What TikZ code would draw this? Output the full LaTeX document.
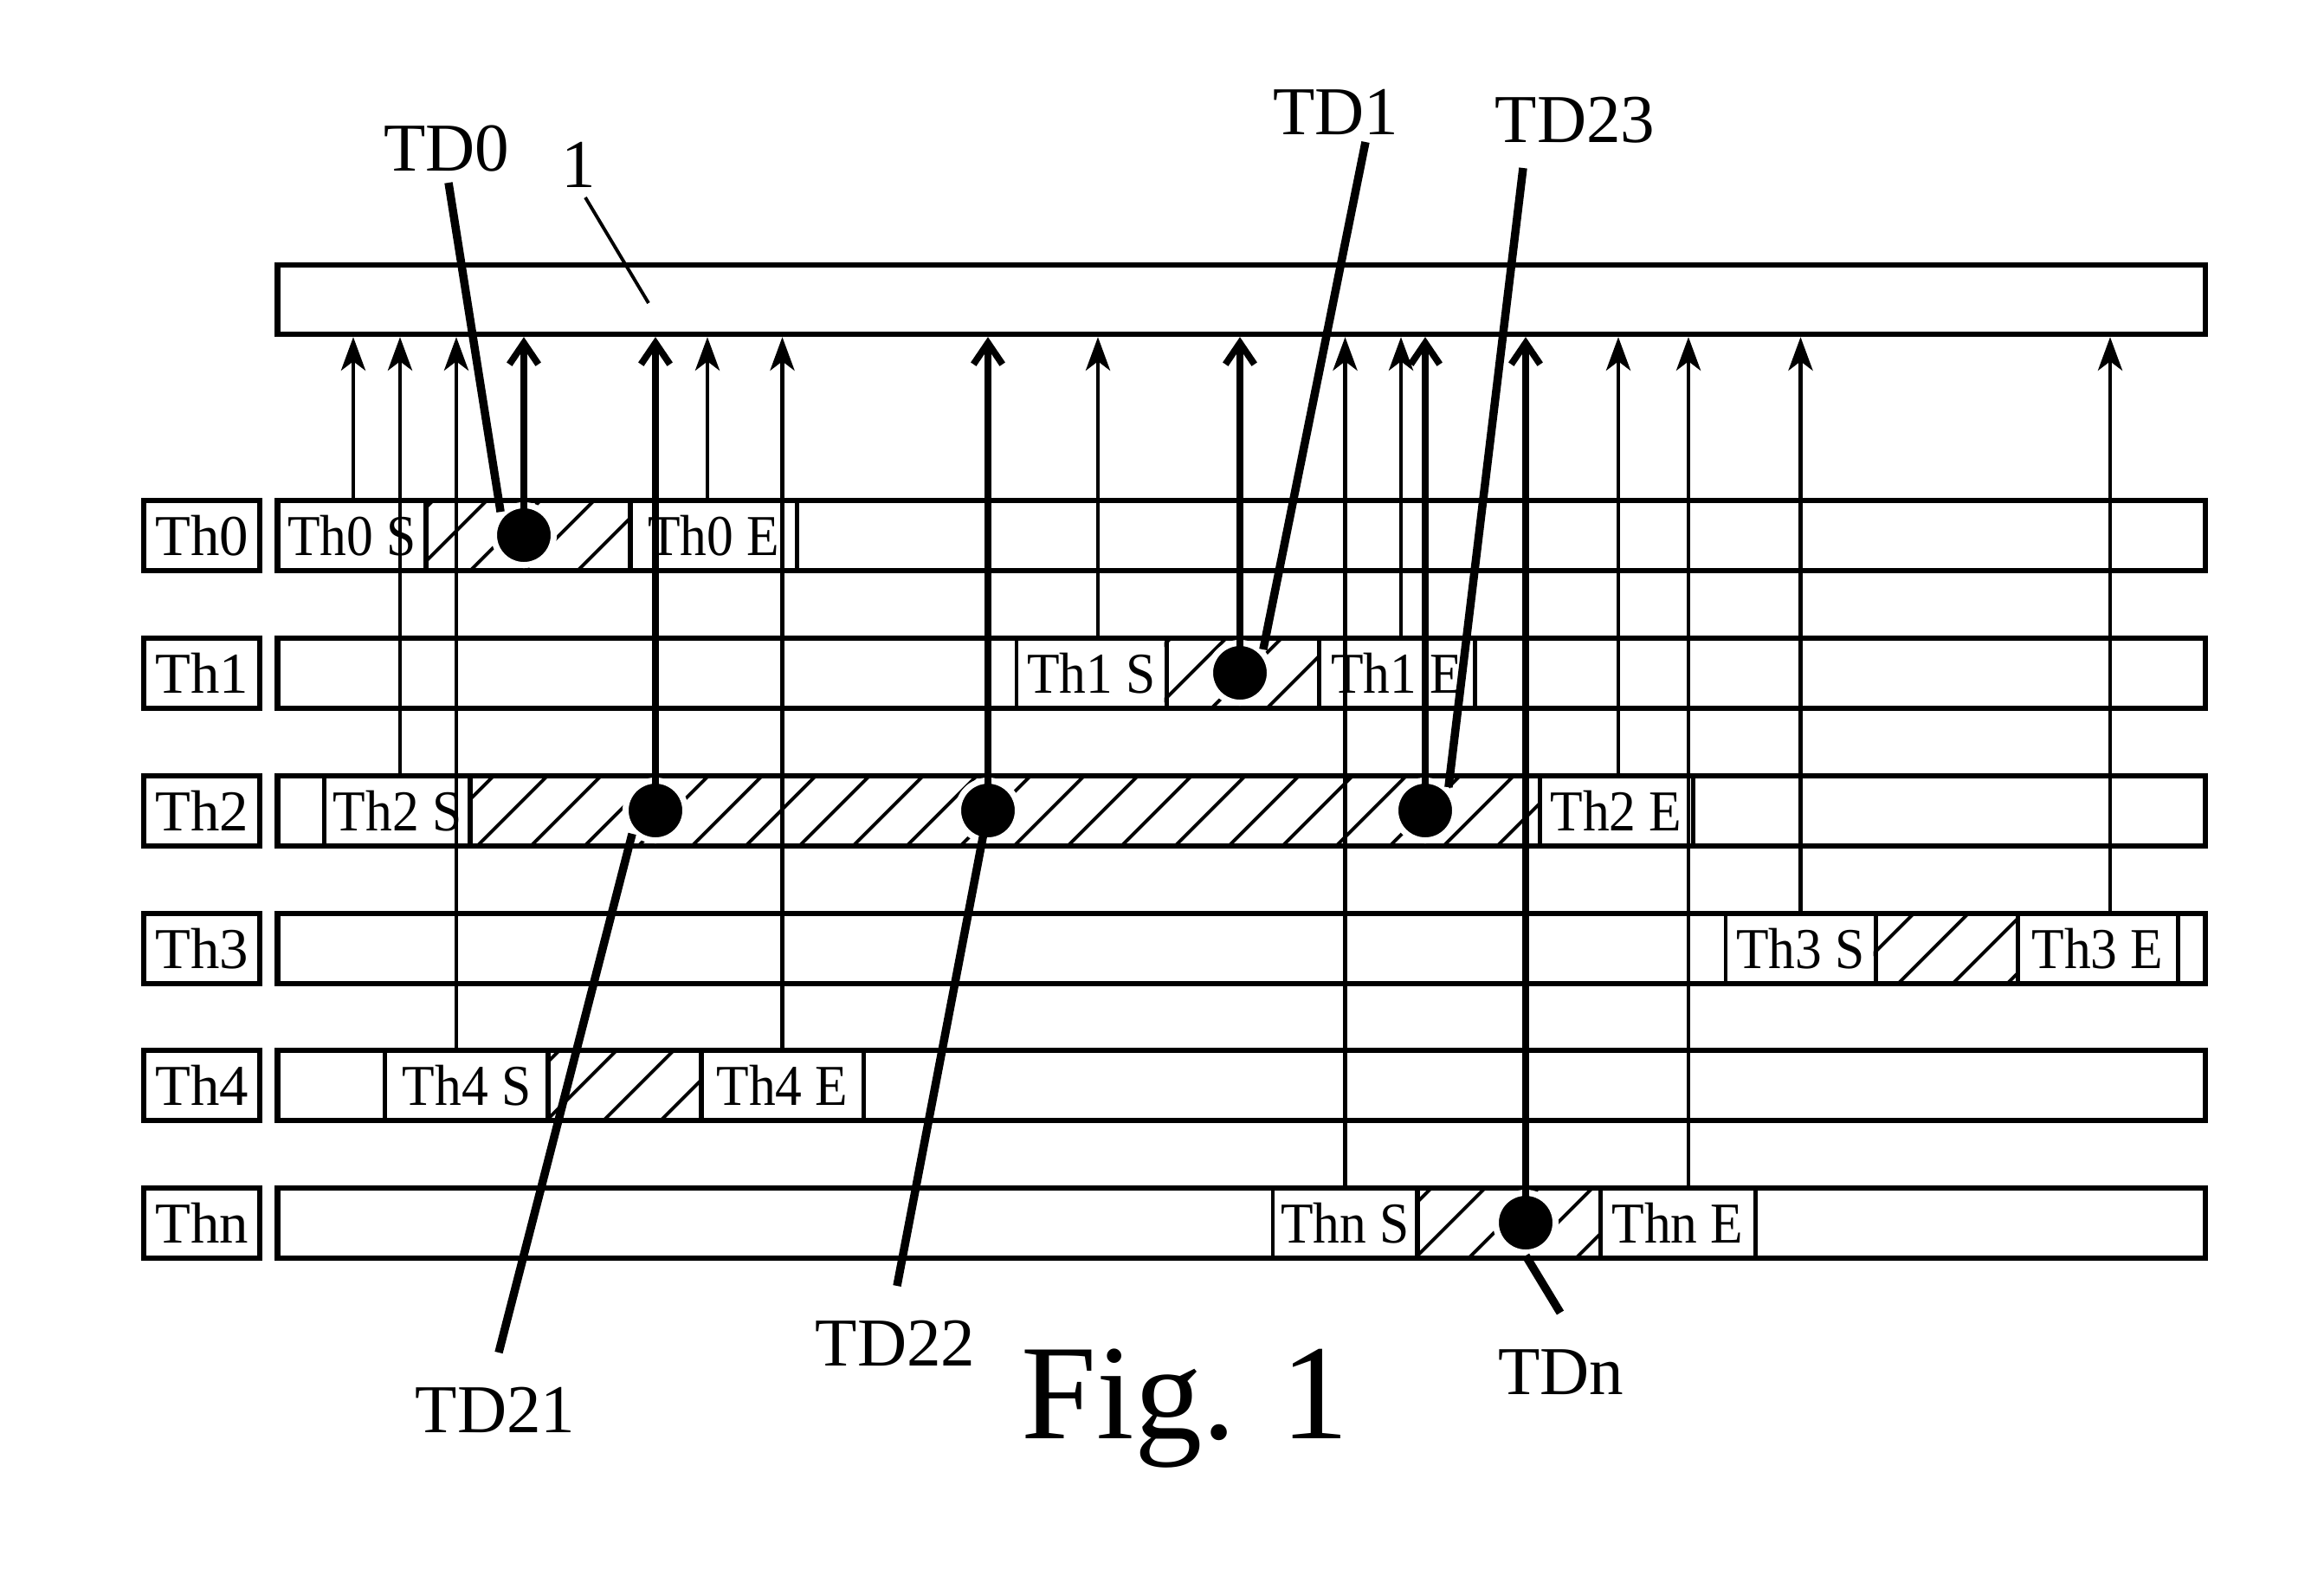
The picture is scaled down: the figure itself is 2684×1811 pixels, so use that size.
\documentclass[tikz,border=0pt]{standalone}
\usepackage{fontspec}
\usepackage{graphicx}
\setmainfont{Liberation Serif}
\usetikzlibrary{arrows.meta,calc}
% box from (x1,y1) to (x2,y2) in picture units, with a style and a text
\newcommand\mybox[7]{%
  \pgfmathsetmacro\bw{(#4-#3)/100}%
  \pgfmathsetmacro\bh{(#6-#5)/100}%
  \node[#1, minimum width=\bw cm, minimum height=\bh cm] (#2) at ({(#3+#4)/2},{(#5+#6)/2}) {#7};}
\newcommand\hatchreg[5]{%
  \begin{scope}
    \clip (#1.south west) rectangle (#1.north east);
    \foreach \k in {-1,...,#5} {\draw[hatchline] ({#2+#3*\k},#4) -- ++(120,-120);}
  \end{scope}}
\begin{document}
\begin{tikzpicture}[x=0.01cm,y=-0.01cm,
  bar/.style={draw, line width=1.8pt, inner sep=0pt},
  seg/.style={draw, line width=1.4pt, inner sep=0pt, font=\fontsize{19}{22}\selectfont},
  lab/.style={draw, line width=1.8pt, inner sep=0pt, font=\fontsize{19}{22}\selectfont},
  hatchline/.style={line width=1.1pt},
  thinarr/.style={line width=1.3pt, -{Stealth[length=11pt,width=8pt,inset=3pt]}},
  thickarr/.style={line width=2.2pt, -{Straight Barb[length=7pt,width=9.5pt]}},
  leader/.style={line width=2.7pt},
  thinlead/.style={line width=1.1pt},
  dot/.style={circle, fill=black, draw=white, line width=2pt, minimum size=0.69cm, inner sep=0pt},
  tdlab/.style={inner sep=0pt, font=\fontsize{22.5}{26}\selectfont},
  figlab/.style={inner sep=0pt, font=\fontsize{44.5}{50}\selectfont}]
\useasboundingbox (0,0) rectangle (2684,1811);
\fill[white] (0,0) rectangle (2684,1811);

% buffer
\mybox{bar}{buf}{321}{2546}{306}{386}{}

% rows
\mybox{lab}{l0}{166}{300}{578}{659}{Th0}
\mybox{bar}{bar0}{321}{2546}{578}{659}{}
\mybox{lab}{l1}{166}{300}{737}{818}{Th1}
\mybox{bar}{bar1}{321}{2546}{737}{818}{}
\mybox{lab}{l2}{166}{300}{896}{977}{Th2}
\mybox{bar}{bar2}{321}{2546}{896}{977}{}
\mybox{lab}{l3}{166}{300}{1055}{1136}{Th3}
\mybox{bar}{bar3}{321}{2546}{1055}{1136}{}
\mybox{lab}{l4}{166}{300}{1213}{1294}{Th4}
\mybox{bar}{bar4}{321}{2546}{1213}{1294}{}
\mybox{lab}{l5}{166}{300}{1372}{1453}{Thn}
\mybox{bar}{bar5}{321}{2546}{1372}{1453}{}

% segments
\mybox{seg}{s0}{321}{492}{578}{659}{\scalebox{0.92}[1]{Th0 S}}
\mybox{seg}{h0}{492}{728}{578}{659}{}
\mybox{seg}{e0}{728}{920}{578}{659}{\scalebox{0.92}[1]{Th0 E}}

\mybox{seg}{s1}{1174}{1347}{737}{818}{\scalebox{0.92}[1]{Th1 S}}
\mybox{seg}{h1}{1347}{1523}{737}{818}{}
\mybox{seg}{e1}{1523}{1703}{737}{818}{\scalebox{0.92}[1]{Th1 E}}

\mybox{seg}{s2}{375}{543}{896}{977}{\scalebox{0.92}[1]{Th2 S}}
\mybox{seg}{h2}{543}{1778}{896}{977}{}
\mybox{seg}{e2}{1778}{1955}{896}{977}{\scalebox{0.92}[1]{Th2 E}}

\mybox{seg}{s3}{1993}{2166}{1055}{1136}{\scalebox{0.92}[1]{Th3 S}}
\mybox{seg}{h3}{2166}{2330}{1055}{1136}{}
\mybox{seg}{e3}{2330}{2515}{1055}{1136}{\scalebox{0.92}[1]{Th3 E}}

\mybox{seg}{s4}{445}{633}{1213}{1294}{\scalebox{0.92}[1]{Th4 S}}
\mybox{seg}{h4}{633}{810}{1213}{1294}{}
\mybox{seg}{e4}{810}{997}{1213}{1294}{\scalebox{0.92}[1]{Th4 E}}

\mybox{seg}{sn}{1470}{1637}{1372}{1453}{\scalebox{0.92}[1]{Thn S}}
\mybox{seg}{hn}{1637}{1848}{1372}{1453}{}
\mybox{seg}{en}{1848}{2027}{1372}{1453}{\scalebox{0.92}[1]{Thn E}}

% hatching
\hatchreg{h0}{481}{62}{659}{5}
\hatchreg{h1}{1335}{64}{818}{4}
\hatchreg{h2}{551}{62}{977}{21}
\hatchreg{h3}{2129}{63}{1136}{4}
\hatchreg{h4}{631}{66}{1294}{4}
\hatchreg{hn}{1634}{62}{1453}{5}

% thin arrows from start/end boxes to the buffer
\draw[thinarr] ([xshift=0.015cm]s0.north) -- ([xshift=0.015cm]s0.north |- buf.south);
\draw[thinarr] ([xshift=0.03cm]s2.north) -- ([xshift=0.03cm]s2.north |- buf.south);
\draw[thinarr] ([xshift=-0.12cm]s4.north) -- ([xshift=-0.12cm]s4.north |- buf.south);
\draw[thinarr] ([xshift=-0.07cm]e0.north) -- ([xshift=-0.07cm]e0.north |- buf.south);
\draw[thinarr] (e4.north) -- (e4.north |- buf.south);
\draw[thinarr] ([xshift=0.075cm]s1.north) -- ([xshift=0.075cm]s1.north |- buf.south);
\draw[thinarr] (sn.north) -- (sn.north |- buf.south);
\draw[thinarr] ([xshift=0.05cm]e1.north) -- ([xshift=0.05cm]e1.north |- buf.south);
\draw[thinarr] ([xshift=0.025cm]e2.north) -- ([xshift=0.025cm]e2.north |- buf.south);
\draw[thinarr] ([xshift=0.125cm]en.north) -- ([xshift=0.125cm]en.north |- buf.south);
\draw[thinarr] (s3.north) -- (s3.north |- buf.south);
\draw[thinarr] ([xshift=0.145cm]e3.north) -- ([xshift=0.145cm]e3.north |- buf.south);

% dots
\node[dot] (d0) at (605,618) {};
\node[dot] (d1) at (1432,777) {};
\node[dot] (d21) at (757,936) {};
\node[dot] (d22) at (1141,936) {};
\node[dot] (d23) at (1646,936) {};
\node[dot] (dn) at (1762,1412) {};

% thick arrows
\foreach \d in {d0,d1,d21,d22,d23,dn} {
  \draw[thickarr] (\d.center) -- (\d.center |- buf.south);
}

% labels
\node[tdlab] (tTD0) at (516,172) {TD0};
\node[tdlab] (t1) at (668,190) {1};
\node[tdlab] (tTD1) at (1543,129) {TD1};
\node[tdlab] (tTD23) at (1819,139) {TD23};
\node[tdlab] (tTD21) at (572,1628) {TD21};
\node[tdlab] (tTD22) at (1034,1551) {TD22};
\node[tdlab] (tTDn) at (1803,1585) {TDn};
\node[figlab, anchor=base west] (fig) at (1179,1661) {Fig. 1};

% leader lines
\coordinate (cTD0) at (518,211);
\coordinate (c1a) at (676,228);
\coordinate (c1b) at (749,350);
\coordinate (cTD1) at (1577,164);
\coordinate (cTD23) at (1759,194);
\coordinate (cTD21) at (576,1562);
\coordinate (cTD22) at (1036,1485);
\coordinate (cTDn) at (1802,1516);
\draw[thinlead] (c1a) -- (c1b);
\draw[leader] (cTD0) -- (d0.north west);
\draw[leader] (cTD1) -- (d1.north east);
\draw[leader] (cTD23) -- (d23.north east);
\draw[leader] (d21.south west) -- (cTD21);
\draw[leader] (d22.center) -- (cTD22);
\draw[leader] (dn.south) -- (cTDn);
\end{tikzpicture}
\end{document}
